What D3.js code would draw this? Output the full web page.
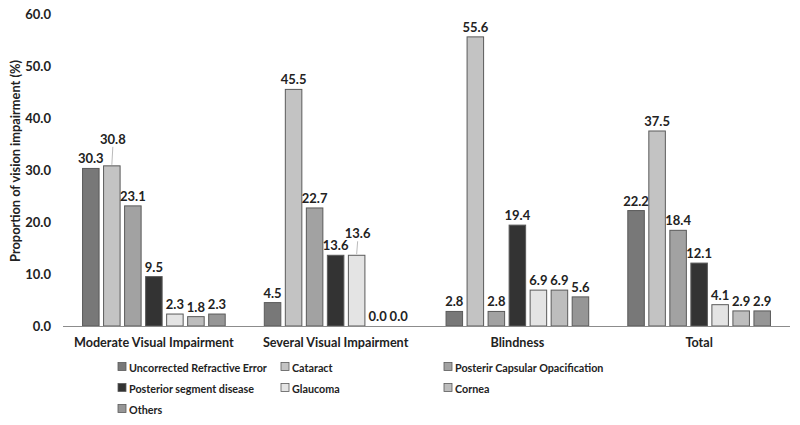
<!DOCTYPE html>
<html><head><meta charset="utf-8">
<script src="https://cdn.jsdelivr.net/npm/d3@7"></script>
<style>body{margin:0;background:#fff;} svg{display:block;} text{font-family:Lato, "Open Sans", sans-serif;font-weight:bold;fill:#222;}</style>
</head><body>
<svg id="c" width="800" height="425"></svg>
<script>
const categories = ["Moderate Visual Impairment","Several Visual Impairment","Blindness","Total"];
const seriesNames = ["Uncorrected Refractive Error","Cataract","Posterir Capsular Opacification","Posterior segment disease","Glaucoma","Cornea","Others"];
const uncorrected = [30.3, 4.5, 2.8, 22.2];
const cataract = [30.8, 45.5, 55.6, 37.5];
const pco = [23.1, 22.7, 2.8, 18.4];
const posteriorSegment = [9.5, 13.6, 19.4, 12.1];
const glaucoma = [2.3, 13.6, 6.9, 4.1];
const cornea = [1.8, 0.0, 6.9, 2.9];
const others = [2.3, 0.0, 5.6, 2.9];
const yTicks = [0,10,20,30,40,50,60];
const colors = ["#787878","#c3c3c3","#a2a2a2","#333333","#e4e4e4","#bdbdbd","#969696"];
const seriesValues = [uncorrected, cataract, pco, posteriorSegment, glaucoma, cornea, others];

const svg = d3.select("#c");

function textWidth(sample, size){
  const t = svg.append("text").style("font-size",size+"px").text(sample);
  const w = t.node().getComputedTextLength();
  t.remove();
  return w;
}
const fsCat = 20*160/textWidth("Moderate Visual Impairment", 20);
const fsTitle = 20*202/textWidth("Proportion of vision impairment (%)", 20);
const fsVal = 13;
const fsLeg = 11.8;
const legSqueeze = 138/textWidth("Uncorrected Refractive Error", fsLeg);

const x0 = d3.scaleBand().domain(categories).range([63, 790]).padding(0);
const x1 = d3.scaleBand().domain(seriesNames).range([0, x0.bandwidth()]).paddingInner(0.214).paddingOuter(0.93);
const y = d3.scaleLinear().domain([0, 60]).range([326, 14]);

// y axis
const ya = svg.append("g").attr("transform","translate(51,0)")
  .call(d3.axisLeft(y).tickValues(yTicks).tickFormat(d3.format(".1f")).tickSize(0).tickPadding(0));
ya.select(".domain").remove();
ya.selectAll("text").style("font-family","Lato, sans-serif").style("font-weight","bold").style("font-size",fsVal+"px").attr("fill","#222");

svg.append("text").attr("transform","translate(20,161) rotate(-90)").attr("text-anchor","middle")
  .style("font-size",fsTitle+"px").text("Proportion of vision impairment (%)");

// bars
const data = [];
categories.forEach((c,ci)=>seriesNames.forEach((s,si)=>data.push({c, s, si, v: seriesValues[si][ci]})));
const g = svg.append("g");
g.selectAll("rect").data(data).join("rect")
  .attr("x", d=>x0(d.c)+x1(d.s))
  .attr("y", d=>y(d.v))
  .attr("width", x1.bandwidth())
  .attr("height", d=>y(0)-y(d.v))
  .attr("fill", d=>colors[d.si])
  .attr("stroke", d=> d.v>0 ? "#5a5a5a" : "none")
  .attr("stroke-width", 1);

// baseline
svg.append("line").attr("x1",63).attr("x2",790).attr("y1",y(0)+0.5).attr("y2",y(0)+0.5).attr("stroke","#8c8c8c").attr("stroke-width",1.2);

// value labels (two labels lifted with leader lines, as in original)
const lifted = {"Moderate Visual Impairment|Cataract":17, "Several Visual Impairment|Glaucoma":12};
data.forEach(d=>{
  const cx = x0(d.c)+x1(d.s)+x1.bandwidth()/2;
  const lift = lifted[d.c+"|"+d.s]||0;
  const by = y(d.v)-5-lift;
  svg.append("text").attr("x",cx+(lift?1:0)).attr("y",by).attr("text-anchor","middle").style("font-size",fsVal+"px").text(d3.format(".1f")(d.v));
  if(lift){
    svg.append("line").attr("x1",cx+1).attr("x2",cx).attr("y1",by+3).attr("y2",y(d.v)-1).attr("stroke","#bbb").attr("stroke-width",1);
  }
});

// category labels
svg.selectAll(".cat").data(categories).join("text").attr("class","cat")
  .attr("x", d=>x0(d)+x0.bandwidth()/2).attr("y",347).attr("text-anchor","middle")
  .style("font-size",fsCat+"px").text(d=>d);

// legend
const legCols = [118, 281, 444];
const legRows = [367, 388, 409];
seriesNames.forEach((s,i)=>{
  const col = i%3, row = Math.floor(i/3);
  const lx = legCols[col], ly = legRows[row];
  svg.append("rect").attr("x",lx).attr("y",ly-4.5).attr("width",8).attr("height",8).attr("fill",colors[i]).attr("stroke","#5a5a5a").attr("stroke-width",0.8);
  svg.append("text").attr("transform",`translate(${lx+11},${ly+4.5}) scale(${legSqueeze},1)`).style("font-size",fsLeg+"px").text(s);
});
</script>
</body></html>
